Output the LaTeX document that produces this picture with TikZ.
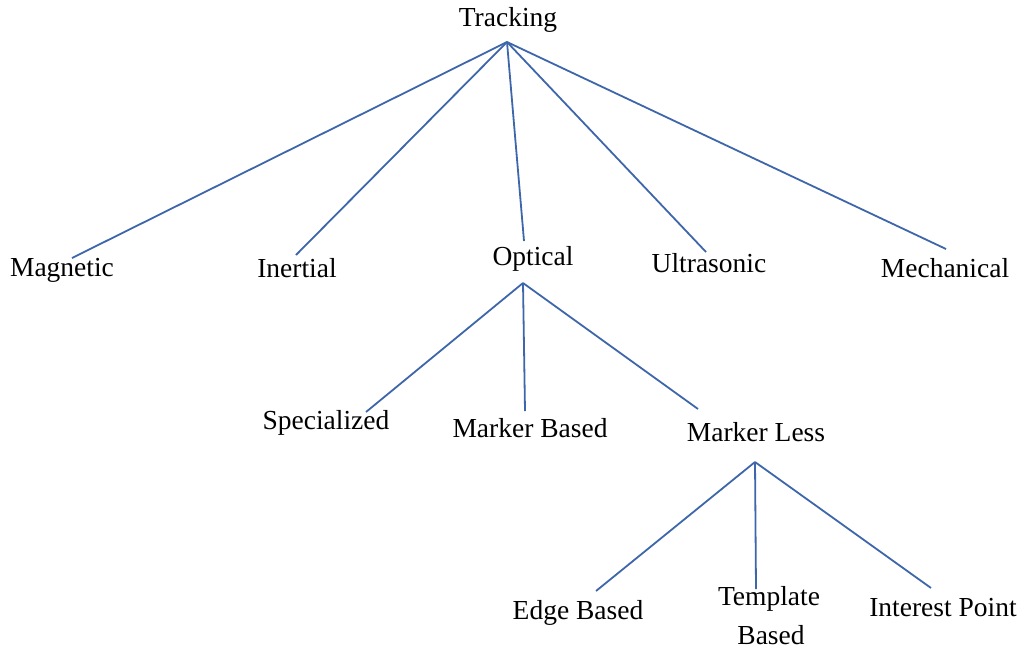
\documentclass[tikz,border=0pt]{standalone}
\usepackage{fontspec}
\setmainfont{Liberation Serif}
\definecolor{linkblue}{RGB}{62,102,170}
\begin{document}
\begin{tikzpicture}[x=1pt,y=-1pt,
  lbl/.style={inner sep=0pt,font=\fontsize{27.5}{32}\selectfont},
  link/.style={draw=linkblue,line width=1.8pt}]
\useasboundingbox (0,0) rectangle (1024,651);
% labels
\node[lbl] (tracking) at (508,20) {Tracking};
\node[lbl] (magnetic) at (62,270) {Magnetic};
\node[lbl] (inertial) at (297,268) {Inertial};
\node[lbl] (optical) at (533,259) {Optical};
\node[lbl] (ultrasonic) at (709,263) {Ultrasonic};
\node[lbl] (mechanical) at (945,268) {Mechanical};
\node[lbl] (specialized) at (326,423) {Specialized};
\node[lbl] (markerbased) at (530,428) {Marker Based};
\node[lbl] (markerless) at (756,432) {Marker Less};
\node[lbl] (edge) at (578,613) {Edge Based};
\node[lbl] (template) at (769,599) {Template};
\node[lbl] (templateb) at (771,635) {Based};
\node[lbl] (interest) at (943,608) {Interest Point};
% connector ends
\coordinate (hubT) at (507,42);
\coordinate (eMag) at (72,258);
\coordinate (eIne) at (296,255);
\coordinate (eOpt) at (524,241);
\coordinate (eUlt) at (706,252);
\coordinate (eMec) at (946,249);
\coordinate (hubO) at (523,283);
\coordinate (eSpe) at (366,412);
\coordinate (eMkb) at (525,411);
\coordinate (eMkl) at (698,409);
\coordinate (hubM) at (755,462);
\coordinate (eEdg) at (596,591);
\coordinate (eTem) at (756,589);
\coordinate (eInt) at (931,588);
% connectors
\draw[link] (hubT) -- (eMag);
\draw[link] (hubT) -- (eIne);
\draw[link] (hubT) -- (eOpt);
\draw[link] (hubT) -- (eUlt);
\draw[link] (hubT) -- (eMec);
\draw[link] (hubO) -- (eSpe);
\draw[link] (hubO) -- (eMkb);
\draw[link] (hubO) -- (eMkl);
\draw[link] (hubM) -- (eEdg);
\draw[link] (hubM) -- (eTem);
\draw[link] (hubM) -- (eInt);
\end{tikzpicture}
\end{document}
